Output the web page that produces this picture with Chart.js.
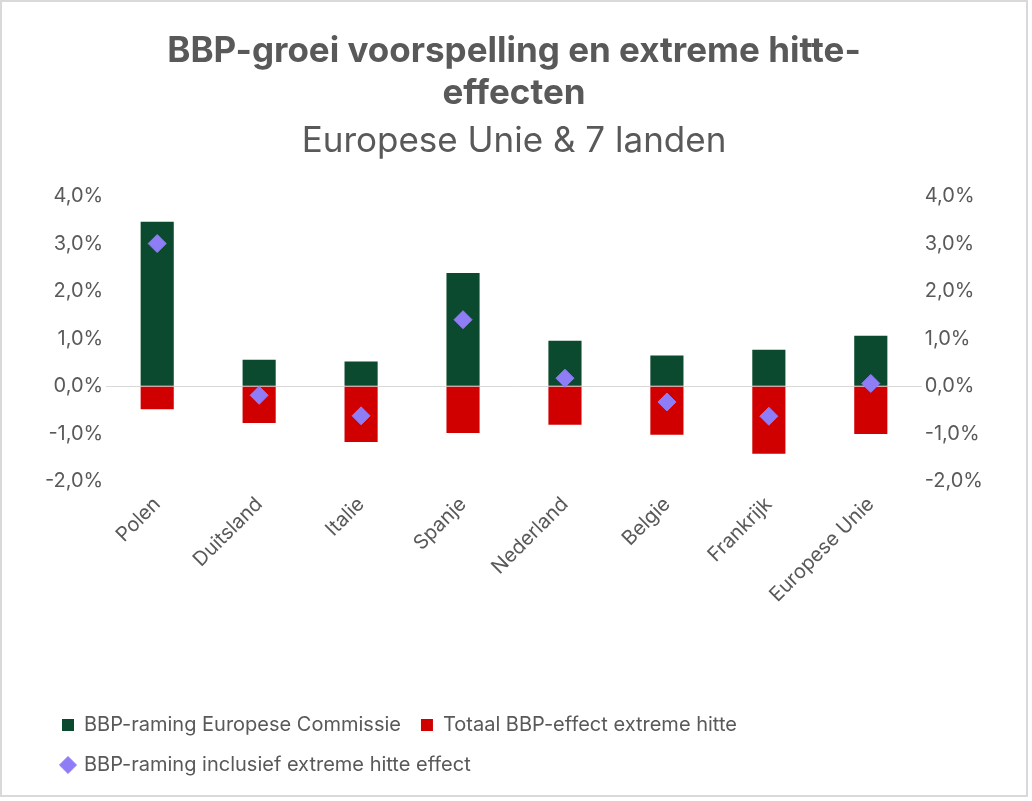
<!DOCTYPE html>
<html>
<head>
<meta charset="utf-8">
<script src="https://cdn.jsdelivr.net/npm/chart.js@4"></script>
<style>
  html, body { margin: 0; padding: 0; background: #fff; }
  #wrap { width: 1028px; height: 797px; border: 2px solid #d9d9d9; box-sizing: border-box; position: relative; }
</style>
</head>
<body>
<div id="wrap"><canvas id="chart" width="1024" height="793"></canvas></div>
<script>
const landen = ['Polen', 'Duitsland', 'Italie', 'Spanje', 'Nederland', 'Belgie', 'Frankrijk', 'Europese Unie'];
const raming = [3.46, 0.56, 0.52, 2.38, 0.96, 0.65, 0.77, 1.06];
const hitteEffect = [-0.48, -0.77, -1.17, -0.98, -0.81, -1.02, -1.42, -1.0];
const inclusief = [3.0, -0.19, -0.62, 1.40, 0.17, -0.33, -0.63, 0.06];

const grijs = '#595959';
const pct = v => v.toFixed(1).replace('.', ',') + '%';

const ctx = document.getElementById('chart').getContext('2d');
new Chart(ctx, {
    data: {
        labels: landen,
        datasets: [
            {
                type: 'scatter',
                label: 'BBP-raming inclusief extreme hitte effect',
                data: inclusief,
                showLine: false,
                pointStyle: 'rectRot',
                pointRadius: 9,
                backgroundColor: '#8f7cf7',
                borderColor: '#8f7cf7',
                order: 0
            },
            {
                type: 'bar',
                label: 'BBP-raming Europese Commissie',
                data: raming,
                backgroundColor: '#0b4a2e',
                stack: 's',
                barPercentage: 0.65,
                categoryPercentage: 0.5,
                order: 1
            },
            {
                type: 'bar',
                label: 'Totaal BBP-effect extreme hitte',
                data: hitteEffect,
                backgroundColor: '#d00000',
                stack: 's',
                barPercentage: 0.65,
                categoryPercentage: 0.5,
                order: 1
            }
        ]
    },
    options: {
        responsive: false,
        animation: false,
        layout: { padding: { left: 40, right: 40, top: 6, bottom: 10 } },
        scales: {
            x: {
                type: 'category',
                stacked: true,
                grid: { display: false },
                border: { display: false },
                ticks: { color: grijs, font: { size: 20, family: 'Inter' }, maxRotation: 45, minRotation: 45 },
                afterFit: s => { s.height += 85; }
            },
            y: {
                stacked: true,
                min: -2, max: 4,
                ticks: { stepSize: 1, color: grijs, font: { size: 20, family: 'Inter' }, callback: v => pct(v) },
                grid: { color: c => c.tick.value === 0 ? '#d9d9d9' : 'transparent', drawTicks: false },
                border: { display: false }
            },
            y2: {
                position: 'right',
                min: -2, max: 4,
                ticks: { stepSize: 1, color: grijs, font: { size: 20, family: 'Inter' }, callback: v => pct(v) },
                grid: { display: false, drawTicks: false },
                border: { display: false }
            }
        },
        plugins: {
            title: {
                display: true,
                text: ['BBP-groei voorspelling en extreme hitte-', 'effecten'],
                color: grijs,
                font: { size: 35, weight: 'bold', family: 'Inter' },
                padding: { top: 22, bottom: 0 },
                lineHeight: 1.2
            },
            subtitle: {
                display: true,
                text: 'Europese Unie & 7 landen',
                color: grijs,
                font: { size: 35, family: 'Inter' },
                padding: { top: 6, bottom: 34 }
            },
            legend: {
                position: 'bottom',
                align: 'start',
                labels: {
                    color: grijs,
                    font: { size: 20, family: 'Inter' },
                    usePointStyle: true,
                    boxWidth: 12,
                    boxHeight: 12,
                    padding: 20,
                    generateLabels: chart => {
                        const items = Chart.defaults.plugins.legend.labels.generateLabels(chart);
                        items.forEach(it => { if (it.pointStyle !== 'rectRot') it.pointStyle = 'rect'; });
                        return [items[1], items[2], items[0]];
                    }
                }
            },
            tooltip: { enabled: false }
        }
    }
});
</script>
</body>
</html>
